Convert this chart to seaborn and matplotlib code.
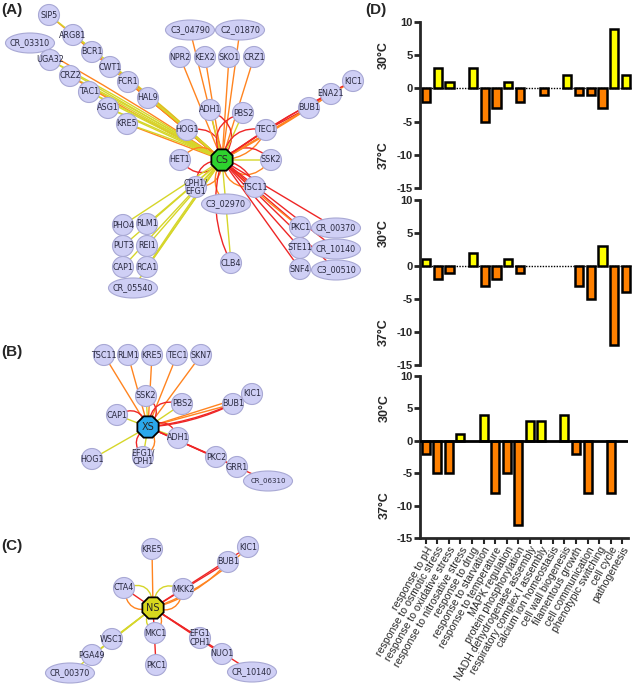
import numpy as np
import pandas as pd
import seaborn as sns
import matplotlib.pyplot as plt
from matplotlib.patches import Ellipse, RegularPolygon, FancyArrowPatch

# ---------------- bar chart data (panel D) ----------------
categories = ['response to pH', 'response to osmotic stress', 'response to oxidative stress',
              'response to nitrosative stress', 'response to drug', 'response to starvation',
              'response to temperature', 'MAPK regulation', 'protein phosphorylation',
              'NADH dehydrogenase assembly', 'respiratory complex I assembly',
              'calcium ion homeostasis', 'cell wall biogenesis', 'filamentous growth',
              'cell communication', 'phenotypic switching', 'cell cycle', 'pathogenesis']
cs_values = [-2, 3, 1, 0, 3, -5, -3, 1, -2, 0, -1, 0, 2, -1, -1, -3, 9, 2]
xs_values = [1, -2, -1, 0, 2, -3, -2, 1, -1, 0, 0, 0, 0, -3, -5, 3, -12, -4]
ns_values = [-2, -5, -5, 1, 0, 4, -8, -5, -13, 3, 3, 0, 4, -2, -8, 0, -8, 0]
yticks = [-15, -10, -5, 0, 5, 10]

# ---------------- network data (panels A-C), layout in pixels ----------------
a_names = ['SIP5', 'ARG81', 'CR_03310', 'BCR1', 'UGA32', 'CWT1', 'CRZ2', 'FCR1', 'TAC1',
           'HAL9', 'ASG1', 'KRE5', 'HOG1', 'ADH1', 'PBS2', 'TEC1', 'HET1', 'CS', 'SSK2',
           'CPH1/\nEFG1', 'TSC11', 'C3_02970', 'NPR2', 'KEX2', 'SKO1', 'CRZ1', 'C3_04790',
           'C2_01870', 'PHO4', 'RLM1', 'PUT3', 'REI1', 'CAP1', 'RCA1', 'CR_05540', 'CLB4',
           'PKC1', 'STE11', 'SNF4', 'KIC1', 'ENA21', 'BUB1', 'CR_00370', 'CR_10140', 'C3_00510']
a_x = [49, 73, 30, 92, 50, 110, 70, 128, 89, 148, 108, 127, 187, 210, 243, 266, 180, 222, 271,
       196, 255, 226, 180, 205, 229, 254, 190, 240, 123, 147, 123, 147, 123, 147, 133, 231,
       300, 300, 300, 353, 331, 309, 336, 336, 336]
a_y = [15, 35, 43, 52, 60, 67, 76, 82, 92, 98, 108, 124, 130, 110, 113, 130, 160, 160, 160,
       187, 187, 204, 57, 57, 57, 57, 30, 30, 225, 224, 246, 246, 267, 267, 288, 263,
       227, 248, 269, 81, 94, 108, 228, 249, 270]
a_edges = [('SIP5', 'o', 0), ('SIP5', 'y', .02), ('ARG81', 'o', 0), ('ARG81', 'y', .03),
           ('CR_03310', 'o', .02), ('BCR1', 'o', 0), ('BCR1', 'o', .03), ('UGA32', 'y', 0),
           ('UGA32', 'y', .02), ('CWT1', 'o', 0), ('CWT1', 'y', .03), ('CRZ2', 'y', 0),
           ('CRZ2', 'y', .02), ('CRZ2', 'o', -.02), ('FCR1', 'o', 0), ('TAC1', 'y', 0),
           ('TAC1', 'y', .02), ('HAL9', 'o', 0), ('HAL9', 'y', .02), ('ASG1', 'y', 0),
           ('ASG1', 'y', .02), ('KRE5', 'o', 0), ('KRE5', 'y', .03), ('HOG1', 'y', 0),
           ('HOG1', 'r', .6), ('C3_04790', 'o', 0), ('NPR2', 'o', 0), ('KEX2', 'o', 0),
           ('SKO1', 'o', 0), ('C2_01870', 'o', 0), ('CRZ1', 'o', 0), ('ADH1', 'y', 0),
           ('ADH1', 'r', .6), ('PBS2', 'y', 0), ('PBS2', 'r', -.6), ('TEC1', 'o', .3),
           ('TEC1', 'r', -.5), ('SSK2', 'y', 0), ('SSK2', 'o', .6), ('SSK2', 'r', -.5),
           ('HET1', 'o', .6), ('HET1', 'r', -.6), ('TSC11', 'o', .5), ('TSC11', 'r', -.3),
           ('CPH1/\nEFG1', 'r', .5), ('CPH1/\nEFG1', 'o', -.5), ('C3_02970', 'o', .4),
           ('CLB4', 'y', 0), ('CLB4', 'r', .2), ('BUB1', 'o', 0), ('BUB1', 'r', -.05),
           ('ENA21', 'o', .02), ('ENA21', 'r', -.05), ('KIC1', 'o', 0), ('KIC1', 'r', -.04),
           ('PKC1', 'r', 0), ('PKC1', 'o', .03), ('STE11', 'r', 0), ('SNF4', 'r', 0),
           ('CR_00370', 'r', 0), ('CR_10140', 'r', 0), ('C3_00510', 'r', 0),
           ('PHO4', 'y', 0), ('RLM1', 'y', 0), ('PUT3', 'y', 0), ('REI1', 'y', 0),
           ('CAP1', 'y', 0), ('RCA1', 'y', 0), ('RCA1', 'y', .02), ('CR_05540', 'y', 0)]

b_names = ['TSC11', 'RLM1', 'KRE5', 'TEC1', 'SKN7', 'KIC1', 'SSK2', 'PBS2', 'BUB1', 'CAP1',
           'XS', 'ADH1', 'HOG1', 'EFG1/\nCPH1', 'PKC2', 'GRR1', 'CR_06310']
b_x = [104, 128, 152, 177, 201, 252, 146, 182, 233, 117, 148, 178, 92, 143, 216, 237, 268]
b_y = [355, 355, 355, 355, 355, 394, 396, 404, 404, 415, 427, 438, 459, 457, 457, 467, 481]
b_edges = [('TSC11', 'o', 0), ('RLM1', 'o', 0), ('KRE5', 'o', 0), ('TEC1', 'o', 0),
           ('SKN7', 'o', 0), ('SSK2', 'r', .6), ('SSK2', 'y', 0), ('PBS2', 'r', -.6),
           ('PBS2', 'y', 0), ('CAP1', 'y', 0), ('CAP1', 'r', .6), ('KIC1', 'o', 0),
           ('BUB1', 'o', 0), ('BUB1', 'r', .1), ('KIC1', 'r', .1), ('ADH1', 'r', -.6),
           ('ADH1', 'y', 0), ('HOG1', 'y', 0), ('EFG1/\nCPH1', 'y', 0), ('EFG1/\nCPH1', 'r', .6),
           ('EFG1/\nCPH1', 'o', -.6), ('PKC2', 'r', 0), ('GRR1', 'r', 0), ('CR_06310', 'r', 0)]

c_names = ['KRE5', 'KIC1', 'BUB1', 'CTA4', 'MKK2', 'NS', 'MKC1', 'WSC1', 'EFG1\nCPH1',
           'NUO1', 'PGA49', 'PKC1', 'CR_00370', 'CR_10140']
c_x = [152, 248, 228, 124, 183, 153, 155, 112, 200, 222, 92, 156, 70, 252]
c_y = [549, 547, 562, 588, 589, 608, 633, 639, 638, 654, 655, 665, 673, 672]
c_edges = [('KRE5', 'o', 0), ('KIC1', 'r', 0), ('BUB1', 'r', 0), ('BUB1', 'o', .15),
           ('KIC1', 'o', .12), ('CTA4', 'r', 0), ('CTA4', 'y', .7), ('CTA4', 'o', -.6),
           ('MKK2', 'y', -.7), ('MKK2', 'o', .6), ('MKC1', 'y', .6), ('MKC1', 'o', -.6),
           ('PKC1', 'r', 0), ('WSC1', 'y', 0), ('PGA49', 'y', 0), ('CR_00370', 'y', 0),
           ('EFG1\nCPH1', 'r', 0), ('NUO1', 'r', 0), ('CR_10140', 'r', 0)]

edge_colors = {'y': '#d6d62a', 'o': '#ff8420', 'r': '#ee2626'}
hub_colors = {'CS': '#2ed12e', 'XS': '#2aa8ec', 'NS': '#d8d81e'}
bar_colors = {'up': '#ffff00', 'down': '#ff8000'}

sns.set_style('ticks')
plt.rcParams['font.family'] = ['Liberation Sans', 'DejaVu Sans']

fig = plt.figure(figsize=(6.33, 6.88), dpi=100)

# ---------------- networks ----------------
net = fig.add_axes([0, 0, 365 / 633, 1])
net.set_xlim(0, 365)
net.set_ylim(688, 0)
net.axis('off')


def draw_network(ax, names, xs, ys, edges, hub):
    pos = {n: (x, y) for n, x, y in zip(names, xs, ys)}
    for target, c, rad in edges:
        ax.add_patch(FancyArrowPatch(pos[hub], pos[target], arrowstyle='-',
                                     connectionstyle=f'arc3,rad={rad}', shrinkA=0, shrinkB=0,
                                     color=edge_colors[c], lw=1.0, zorder=1))
    for n, (x, y) in pos.items():
        if n == hub:
            ax.add_patch(RegularPolygon((x, y), numVertices=8, radius=11.5,
                                        orientation=np.pi / 8, facecolor=hub_colors[hub],
                                        edgecolor='black', lw=1.3, zorder=3))
            ax.text(x, y, n, ha='center', va='center', fontsize=7, family='DejaVu Sans',
                    zorder=4)
            continue
        is_ell = n.startswith('C2_') or n.startswith('C3_') or n.startswith('CR_')
        w = 49 if is_ell else 21
        ax.add_patch(Ellipse((x, y), w, 20 if is_ell else 21, facecolor='#cfcff5',
                             edgecolor='#a8a8d4', lw=0.8, zorder=2))
        fs = 5 if n == 'CR_06310' else 5.8
        ax.text(x, y, n, ha='center', va='center', fontsize=fs, family='DejaVu Sans',
                color='#2a2a40', linespacing=0.95, zorder=4)


draw_network(net, a_names, a_x, a_y, a_edges, 'CS')
draw_network(net, b_names, b_x, b_y, b_edges, 'XS')
draw_network(net, c_names, c_x, c_y, c_edges, 'NS')
for lab, yy in [('(A)', 10), ('(B)', 352), ('(C)', 546)]:
    net.text(1, yy, lab, ha='left', va='center', fontsize=11, fontweight='bold')
fig.text(365 / 633, 1 - 10 / 688, '(D)', ha='left', va='center', fontsize=11,
         fontweight='bold')

# ---------------- bar charts ----------------
tops = [22, 200, 376]
bots = [188, 365, 538]
rights = [632, 632, 628]
series = [cs_values, xs_values, ns_values]
left = 420
for i, vals in enumerate(series):
    ax = fig.add_axes([left / 633, 1 - bots[i] / 688, (rights[i] - left) / 633,
                       (bots[i] - tops[i]) / 688])
    df = pd.DataFrame({'category': categories, 'value': vals})
    df = df[df['value'] != 0].copy()
    df['sign'] = np.where(df['value'] > 0, 'up', 'down')
    last = i == 2
    if last:
        ax.axhline(0, color='black', lw=2, zorder=3)
    else:
        ax.axhline(0, color='black', lw=1, ls=(0, (1, 1)), zorder=0)
    sns.barplot(data=df, x='category', y='value', hue='sign', order=categories,
                palette=bar_colors, saturation=1, width=0.7, edgecolor='black',
                linewidth=1.8, legend=False, ax=ax)
    ax.set_xlim(-0.5, len(categories) - 0.5)
    ax.set_ylim(-15, 10)
    ax.set_yticks(yticks)
    ax.set_yticklabels([str(t) for t in yticks], fontsize=8, fontweight='bold')
    ax.set_xlabel('')
    ax.set_ylabel('')
    ax.spines['left'].set_linewidth(2)
    ax.spines['top'].set_visible(False)
    ax.spines['right'].set_visible(False)
    ax.tick_params(axis='y', length=4, width=2, pad=1)
    if last:
        ax.spines['bottom'].set_linewidth(2)
        ax.tick_params(axis='x', length=4, width=1.5, pad=1)
        ax.set_xticks(range(len(categories)))
        ax.set_xticklabels(categories, rotation=60, ha='right', rotation_mode='anchor',
                           fontsize=7.6)
    else:
        ax.spines['bottom'].set_visible(False)
        ax.set_xticks([])
    ax.text(-0.17, 5, '30°C', transform=ax.get_yaxis_transform(), rotation=90,
            ha='center', va='center', fontsize=9, fontweight='bold')
    ax.text(-0.17, -10, '37°C', transform=ax.get_yaxis_transform(), rotation=90,
            ha='center', va='center', fontsize=9, fontweight='bold')

fig.savefig('out.png', dpi=100)
